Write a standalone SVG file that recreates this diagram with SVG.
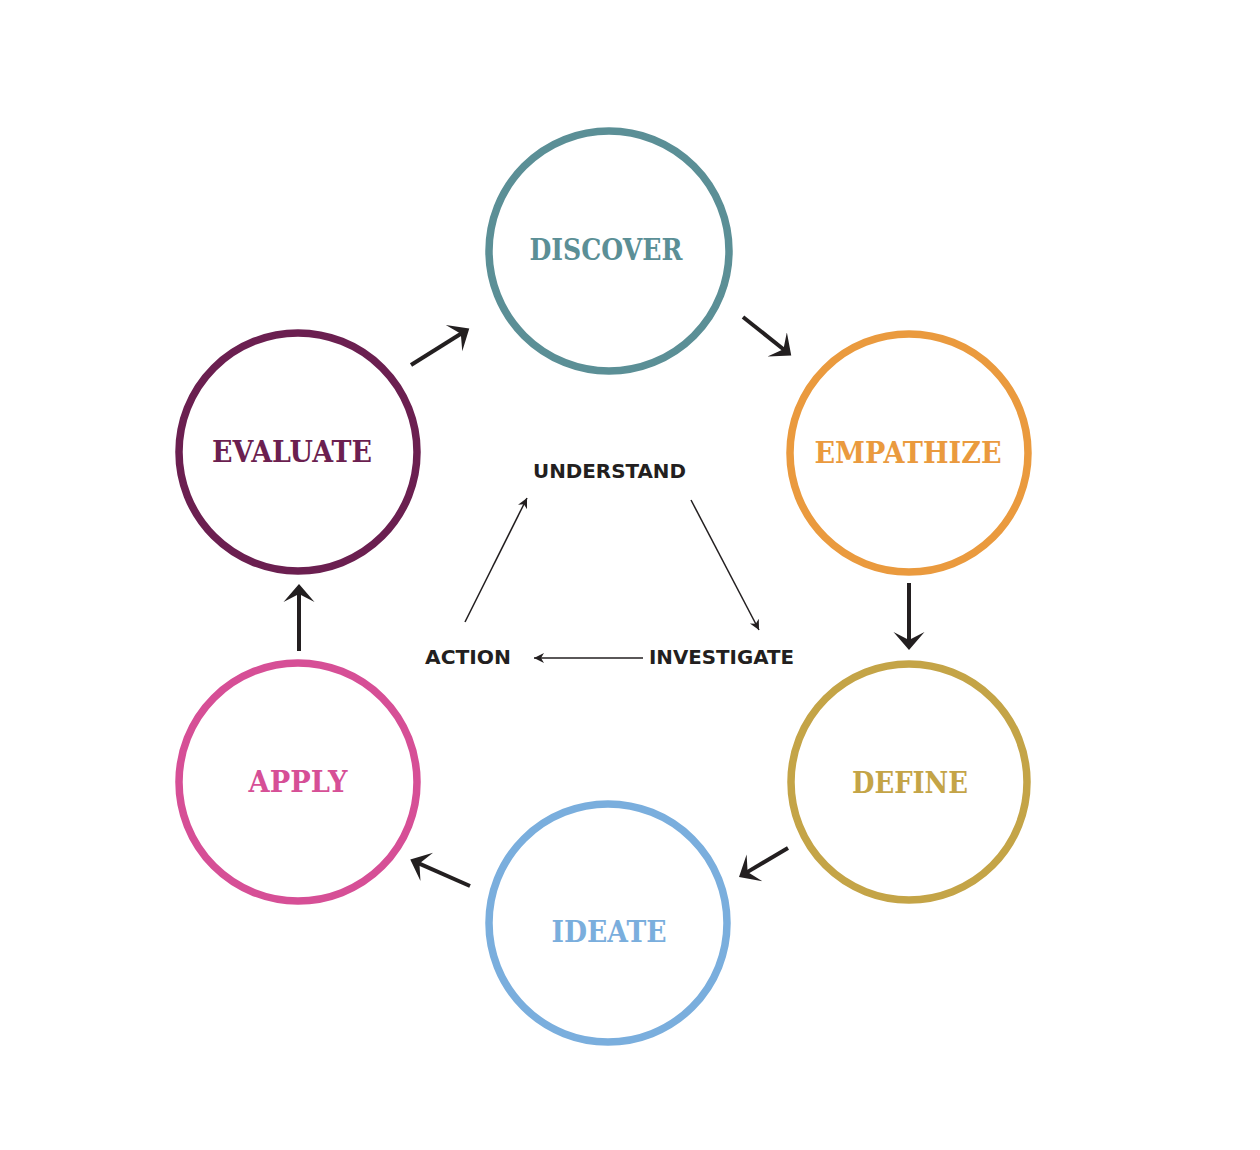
<svg xmlns="http://www.w3.org/2000/svg" width="1260" height="1150" viewBox="0 0 1260 1150">
<style>
.ring{fill:none;stroke-width:7.5}
.lbl{font-family:"DejaVu Serif","Liberation Serif",serif;font-weight:bold;font-size:30px;text-anchor:middle}
.inner{font-family:"DejaVu Sans","Liberation Sans",sans-serif;font-weight:bold;font-size:20px;fill:#231F20}
.thick{stroke:#231F20;stroke-width:4;fill:none}
.thin{stroke:#231F20;stroke-width:1.5;fill:none}
</style>
<defs>
<marker id="headBig" markerUnits="userSpaceOnUse" markerWidth="20" markerHeight="34" viewBox="0 -17 20 34" refX="10" refY="0" orient="auto">
<path d="M18,0 L0,-15.5 L8,0 L0,15.5 Z" fill="#231F20"/>
</marker>
<marker id="headSmall" markerUnits="userSpaceOnUse" markerWidth="12" markerHeight="12" viewBox="0 -6 12 12" refX="10" refY="0" orient="auto">
<path d="M10,0 L0,-5 L3,0 L0,5 Z" fill="#231F20"/>
</marker>
</defs>
<rect width="1260" height="1150" fill="#FFFFFF"/>

<g id="discover">
<circle class="ring" cx="609" cy="251" r="120" stroke="#5B8F96"/>
<text class="lbl" x="606" y="260" fill="#5B8F96" textLength="153" lengthAdjust="spacingAndGlyphs">DISCOVER</text>
</g>
<g id="empathize">
<circle class="ring" cx="909" cy="453" r="119" stroke="#EA9A3E"/>
<text class="lbl" x="908" y="463" fill="#EA9A3E" textLength="187" lengthAdjust="spacingAndGlyphs">EMPATHIZE</text>
</g>
<g id="define">
<circle class="ring" cx="909" cy="782" r="118" stroke="#C4A447"/>
<text class="lbl" x="910" y="793" fill="#C4A447" textLength="116" lengthAdjust="spacingAndGlyphs">DEFINE</text>
</g>
<g id="ideate">
<circle class="ring" cx="608" cy="923" r="119" stroke="#7AAEDD"/>
<text class="lbl" x="609" y="942" fill="#7AAEDD" textLength="115" lengthAdjust="spacingAndGlyphs">IDEATE</text>
</g>
<g id="apply">
<circle class="ring" cx="298" cy="782" r="119" stroke="#D64F96"/>
<text class="lbl" x="298" y="792" fill="#D64F96" textLength="99" lengthAdjust="spacingAndGlyphs">APPLY</text>
</g>
<g id="evaluate">
<circle class="ring" cx="298" cy="452" r="119" stroke="#6B1F50"/>
<text class="lbl" x="292" y="462" fill="#6B1F50" textLength="160" lengthAdjust="spacingAndGlyphs">EVALUATE</text>
</g>

<g id="understand"><text class="inner" x="533" y="478" textLength="153" lengthAdjust="spacingAndGlyphs">UNDERSTAND</text></g>
<g id="action"><text class="inner" x="425" y="664" textLength="86" lengthAdjust="spacingAndGlyphs">ACTION</text></g>
<g id="investigate"><text class="inner" x="649" y="664" textLength="145" lengthAdjust="spacingAndGlyphs">INVESTIGATE</text></g>

<g id="connectors">
<line class="thick" x1="411" y1="365" x2="462.5" y2="332.7" marker-end="url(#headBig)"/>
<line class="thick" x1="743" y1="317" x2="785" y2="350.5" marker-end="url(#headBig)"/>
<line class="thick" x1="909" y1="583" x2="909" y2="642" marker-end="url(#headBig)"/>
<line class="thick" x1="788" y1="848" x2="745.9" y2="872.9" marker-end="url(#headBig)"/>
<line class="thick" x1="470" y1="886" x2="417.6" y2="862.8" marker-end="url(#headBig)"/>
<line class="thick" x1="299" y1="651" x2="299" y2="592" marker-end="url(#headBig)"/>
<line class="thin" x1="465" y1="622" x2="527" y2="498" marker-end="url(#headSmall)"/>
<line class="thin" x1="691" y1="500" x2="759" y2="630" marker-end="url(#headSmall)"/>
<line class="thin" x1="643" y1="658" x2="534" y2="658" marker-end="url(#headSmall)"/>
</g>
</svg>
